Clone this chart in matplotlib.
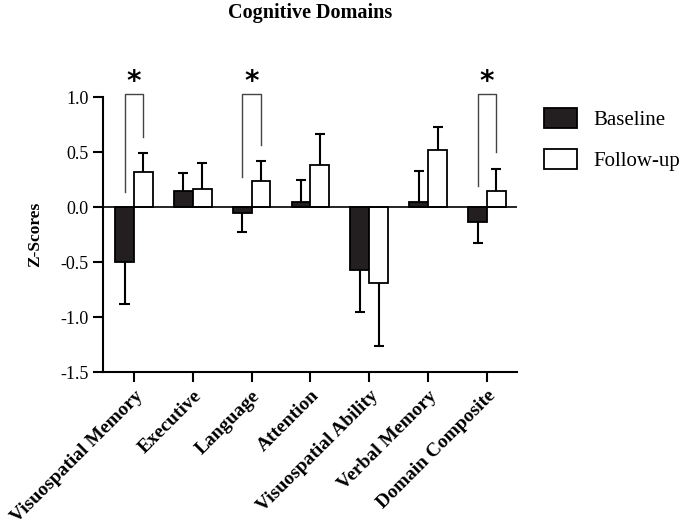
import numpy as np
import matplotlib
matplotlib.use('Agg')
import matplotlib.pyplot as plt

plt.rcParams['font.family'] = ['Liberation Serif', 'DejaVu Serif']

# Datos
dominios = ['Visuospatial Memory', 'Executive', 'Language', 'Attention',
            'Visuospatial Ability', 'Verbal Memory', 'Domain Composite']
baseline = [-0.50, 0.15, -0.05, 0.05, -0.57, 0.05, -0.14]
baseline_err = [0.38, 0.16, 0.18, 0.20, 0.38, 0.28, 0.19]
followup = [0.32, 0.16, 0.24, 0.38, -0.69, 0.52, 0.15]
followup_err = [0.17, 0.24, 0.18, 0.28, 0.57, 0.21, 0.20]

# Comparaciones significativas: indice, pata izquierda, pata derecha
signif_idx = [0, 2, 6]
signif_izq = [0.14, 0.27, 0.19]
signif_der = [0.64, 0.56, 0.50]
signif_top = 1.03
y_ticks = [-1.5, -1.0, -0.5, 0.0, 0.5, 1.0]

color_base = '#231f20'
w = 0.32
x = np.arange(len(dominios))

fig = plt.figure(figsize=(6.85, 5.31), dpi=100)
ax = fig.add_axes([0.1504, 0.2994, 0.6043, 0.5179])

ax.bar(x - w / 2, baseline, width=w, color=color_base, edgecolor='black',
       linewidth=1.3, label='Baseline', zorder=3)
ax.bar(x + w / 2, followup, width=w, color='white', edgecolor='black',
       linewidth=1.3, label='Follow-up', zorder=3)


def barras_error(pos, vals, errs):
    # solo se dibuja hacia afuera del cero, como en GraphPad
    for p, v, e in zip(pos, vals, errs):
        fin = v + e if v >= 0 else v - e
        ax.plot([p, p], [v, fin], color='black', lw=1.5, zorder=2,
                solid_capstyle='butt')
        ax.plot([p - 0.085, p + 0.085], [fin, fin], color='black', lw=1.5,
                zorder=2, solid_capstyle='butt')


barras_error(x - w / 2, baseline, baseline_err)
barras_error(x + w / 2, followup, followup_err)

ax.axhline(0, color='black', lw=1.2, zorder=4)

for i, yl, yr in zip(signif_idx, signif_izq, signif_der):
    xl, xr = i - w / 2, i + w / 2
    ax.plot([xl, xl, xr, xr], [yl, signif_top, signif_top, yr],
            color='#444444', lw=1.0, clip_on=False, zorder=5)
    ax.text(i, 1.14, '*', ha='center', va='center', fontsize=20,
            fontweight='bold', family='DejaVu Sans', clip_on=False)

ax.set_xlim(-0.525, 6.51)
ax.set_ylim(-1.5, 1.0)
ax.set_yticks(y_ticks)
ax.set_yticklabels([f'{t:.1f}' for t in y_ticks], fontsize=13)
ax.set_xticks(x)
ax.set_xticklabels(dominios, rotation=45, ha='right', rotation_mode='anchor',
                   fontsize=14, fontweight='bold')
ax.tick_params(axis='both', direction='out', length=7, width=1.5)
ax.tick_params(axis='x', pad=4)

for s in ['top', 'right']:
    ax.spines[s].set_visible(False)
for s in ['left', 'bottom']:
    ax.spines[s].set_linewidth(1.5)

ax.set_ylabel('Z-Scores', fontsize=12.5, fontweight='bold', labelpad=12)
fig.text(0.453, 0.975, 'Cognitive Domains', ha='center', va='center',
         fontsize=14.5, fontweight='bold')

ax.legend(loc='upper left', bbox_to_anchor=(1.03, 1.012), frameon=False,
          fontsize=15, handlelength=1.6, handleheight=1.1, labelspacing=0.9,
          handletextpad=0.75, borderaxespad=0.3)

fig.savefig('out.png', dpi=100)
